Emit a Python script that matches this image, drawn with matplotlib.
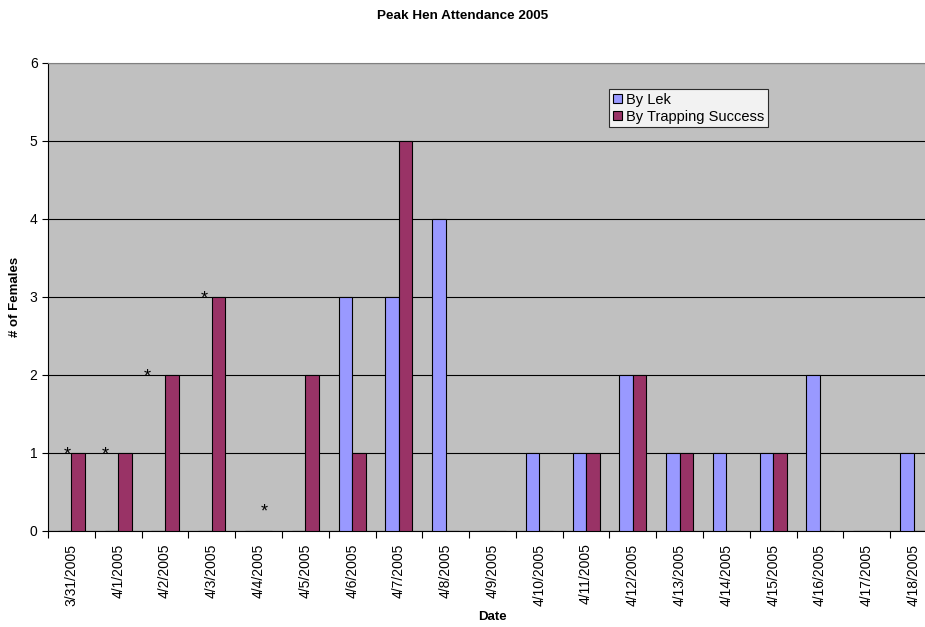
import matplotlib
matplotlib.use("Agg")
import matplotlib.pyplot as plt
import numpy as np

plt.rcParams['font.family'] = ['Liberation Sans', 'DejaVu Sans']

dates = ["3/31/2005", "4/1/2005", "4/2/2005", "4/3/2005", "4/4/2005", "4/5/2005",
         "4/6/2005", "4/7/2005", "4/8/2005", "4/9/2005", "4/10/2005", "4/11/2005",
         "4/12/2005", "4/13/2005", "4/14/2005", "4/15/2005", "4/16/2005",
         "4/17/2005", "4/18/2005"]
by_lek = [0, 0, 0, 0, 0, 0, 3, 3, 4, 0, 1, 1, 2, 1, 1, 1, 2, 0, 1]
by_trapping = [1, 1, 2, 3, 0, 2, 1, 5, 0, 0, 0, 1, 2, 1, 0, 1, 0, 0, 0]

# asterisk annotations (category x-position, value level)
star_x = [-0.09, 0.72, 1.62, 2.85, 4.12]
star_y = [0.98, 0.98, 1.98, 2.98, 0.25]

fig = plt.figure(figsize=(9.25, 6.27), dpi=100)
ax = fig.add_axes([48/925, 1-531/627, 889/925, (531-63)/627])
ax.set_facecolor('#C0C0C0')

x = np.arange(len(dates))
w = 0.29
ax.bar(x - w/2, by_lek, w, color='#9999FF', edgecolor='black', linewidth=0.8,
       label='By Lek', zorder=3)
ax.bar(x + w/2, by_trapping, w, color='#993366', edgecolor='black', linewidth=0.8,
       label='By Trapping Success', zorder=3)

for sx, sy in zip(star_x, star_y):
    ax.text(sx, sy, '*', fontsize=13, ha='center', va='center', zorder=4)

ax.set_xlim(-0.5, len(dates) - 0.5)
ax.set_ylim(0, 6)
ax.set_yticks(range(0, 7))
ax.yaxis.grid(True, color='black', linewidth=0.8, zorder=1)
ax.set_axisbelow(True)

ax.set_xticks(x)
ax.set_xticklabels(dates, rotation=90, fontsize=10)
ax.set_xticks(np.arange(-0.5, len(dates)), minor=True)
ax.tick_params(axis='x', which='major', length=0, pad=9)
ax.tick_params(axis='x', which='minor', length=5, width=0.8, direction='out')
ax.tick_params(axis='y', labelsize=10, length=4, width=0.8, direction='out')

for s in ['top', 'right']:
    ax.spines[s].set_color('#808080')
ax.spines['left'].set_color('black')
ax.spines['bottom'].set_color('black')

ax.set_xlabel('Date', fontsize=9.5, fontweight='bold', labelpad=4)
ax.set_ylabel('# of Females', fontsize=9.5, fontweight='bold', labelpad=6)
fig.text(0.5, 1 - 16/627, 'Peak Hen Attendance 2005', ha='center', va='center',
         fontsize=9.7, fontweight='bold')

leg = ax.legend(loc='upper left', bbox_to_anchor=((609-48)/889, (531-89)/468),
                fontsize=10.5, frameon=True, fancybox=False, edgecolor='black',
                handlelength=0.65, handleheight=0.65, handletextpad=0.25,
                borderpad=0.25, labelspacing=0.2, borderaxespad=0)
leg.get_frame().set_linewidth(0.8)
leg.get_frame().set_facecolor('white')

fig.savefig('out.png', dpi=100)
